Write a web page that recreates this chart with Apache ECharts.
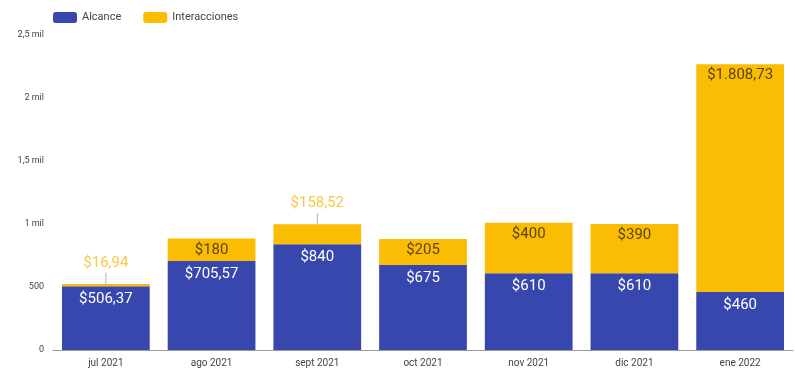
<!DOCTYPE html>
<html><head><meta charset="utf-8">
<script src="https://cdn.jsdelivr.net/npm/echarts@6/dist/echarts.min.js"></script>
<style>html,body{margin:0;padding:0;background:#fff}#c{width:795px;height:374px}</style>
</head><body><div id="c"></div>
<script>
const categories = ['jul 2021','ago 2021','sept 2021','oct 2021','nov 2021','dic 2021','ene 2022'];
const alcance = [506.37, 705.57, 840, 675, 610, 610, 460];
const interacciones = [16.94, 180, 158.52, 205, 400, 390, 1808.73];
const yTicks = {0:'0',500:'500',1000:'1 mil',1500:'1,5 mil',2000:'2 mil',2500:'2,5 mil'};

function fmt(v){
  const dec = Math.round(v*100)%100 !== 0;
  let s = dec ? v.toFixed(2) : String(Math.round(v));
  let [i,d] = s.split('.');
  i = i.replace(/\B(?=(\d{3})+(?!\d))/g,'.');
  return '$' + i + (d ? ',' + d : '');
}
const small = 170;
const interData = interacciones.map(v => v < small ? {
  value: v,
  label: {position:'top', distance: 0, formatter: p => '{v|' + fmt(p.value) + '}\n{l|}',
    rich:{
      v:{color:'#f7c948', fontSize:15, fontFamily:'Roboto', padding:[0,0,2,0]},
      l:{width:1, height:11, backgroundColor:'#b0b0b0'}
    }}
} : v);

const chart = echarts.init(document.getElementById('c'));
chart.setOption({
  animation:false,
  textStyle:{fontFamily:'Roboto'},
  legend:{left:48, top:7, itemWidth:24, itemHeight:11, itemGap:22,
    textStyle:{color:'#444', fontSize:11}, data:['Alcance','Interacciones']},
  grid:{left:53, right:2, top:35, bottom:24},
  xAxis:{type:'category', data:categories,
    axisLine:{lineStyle:{color:'#999'}}, axisTick:{show:false},
    axisLabel:{color:'#444', fontSize:10, margin:8}},
  yAxis:{type:'value', min:0, max:2500, interval:500,
    splitLine:{show:false}, axisLine:{show:false}, axisTick:{show:false},
    axisLabel:{color:'#444', fontSize:9, margin:9, formatter:v=>yTicks[v]}},
  series:[
    {name:'Alcance', type:'bar', stack:'a', data:alcance, barWidth:'83%',
     itemStyle:{color:'#3847ad'},
     label:{show:true, position:'insideTop', distance:6, color:'#fff', fontSize:15, formatter:p=>fmt(p.value)}},
    {name:'Interacciones', type:'bar', stack:'a', data:interData, barWidth:'83%',
     itemStyle:{color:'#fbbc04'},
     label:{show:true, position:'insideTop', distance:4, color:'#5a4600', fontSize:15, formatter:p=>fmt(p.value)}}
  ]
});
</script></body></html>
